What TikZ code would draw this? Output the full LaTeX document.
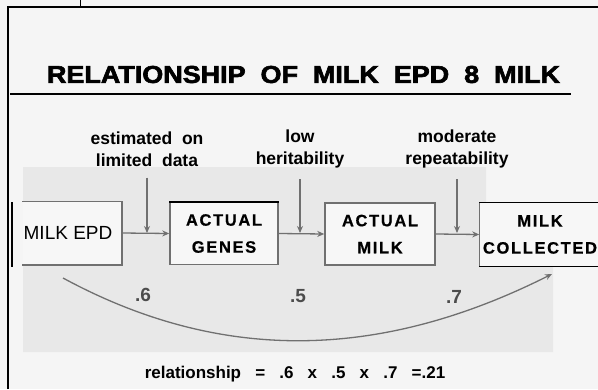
\documentclass[tikz,border=0pt]{standalone}
\usepackage{fontspec}
\setmainfont{Liberation Sans}
\usetikzlibrary{arrows.meta,positioning}

\definecolor{paper}{HTML}{F5F5F5}
\definecolor{photo}{HTML}{E8E8E8}
\definecolor{boxfill}{HTML}{F7F7F7}
\definecolor{pen}{HTML}{707070}

\tikzset{
  stage/.style={draw=pen,line width=1.5pt,fill=boxfill,inner sep=0pt,
    minimum width=108pt,minimum height=62pt,align=center,
    font=\bfseries\addfontfeatures{LetterSpace=10,FakeBold=0.6}\fontsize{16.5}{27}\selectfont},
  cause/.style={align=center,inner sep=0pt,font=\bfseries\fontsize{17.5}{22}\selectfont},
  flow/.style={->,draw=pen,line width=1.3pt},
  coef/.style={text=black!70,font=\bfseries\fontsize{19}{19}\selectfont},
}

\begin{document}
\begin{tikzpicture}[x=1pt,y=-1pt,>={Stealth[length=7pt,width=6pt]}]
  \useasboundingbox[fill=paper] (0,0) rectangle (598,389);
  % frame of the page
  \draw[line width=2pt] (8,389) -- (8,7) -- (598,7);
  \draw[line width=0.8pt] (80,0) -- (80,7);
  \draw[line width=1.3pt] (12,202) -- (12,267);

  % title
  \node (title) at (303.5,74.5) {\resizebox{513pt}{17pt}{\bfseries\addfontfeatures{FakeBold=2.5}RELATIONSHIP\ \ OF\ \ MILK\ \ EPD\ \ 8\ \ MILK}};
  \draw[line width=1.6pt] (10,94) -- (571,94);

  % the pasted photo
  \fill[photo] (23,167) -- (486,167) -- (486,266) -- (553,266) -- (553,352) -- (23,352) -- cycle;

  % stages
  \node[stage,draw=none,minimum width=98pt,font=\fontsize{19}{19}\selectfont] (epd) at (72,233) {MILK EPD\hspace{8pt}};
  \draw[pen,line width=1.5pt] (epd.north west) -- (epd.north east) -- (epd.south east) -- (epd.south west);
  \node[stage] (genes) at (224,233.5) {ACTUAL\\GENES};
  \draw[line width=1.6pt] (genes.north west) -- (genes.north east);
  \node[stage,minimum width=110pt] (milk) at (380,234) {ACTUAL\\MILK};
  \node[stage,draw=none,minimum width=120pt,minimum height=63pt] (coll) at (540,234.5) {MILK\\COLLECTED};
  \draw[pen,line width=1.5pt] (coll.north west) -- (coll.south west);
  \draw[line width=1.2pt] (coll.north west) -- (coll.north east);
  \draw[line width=1.2pt] (coll.south west) -- (coll.south east);

  % what gets in the way
  \node[cause] (data) at (147,149) {estimated\ \ on\\limited\ \ data};
  \node[cause] (herit) at (300,149) {low\\heritability};
  \node[cause] (rept) at (457,149) {moderate\\repeatability};

  \draw[flow] (epd.east) -- (genes.west);
  \draw[flow] (genes.east) -- (milk.west);
  \draw[flow] (milk.east) -- (coll.west);
  \draw[flow] ([yshift=-11pt]data.south) -- (data.south |- epd.east);
  \draw[flow] ([yshift=-11pt]herit.south) -- (herit.south |- epd.east);
  \draw[flow] ([yshift=-11pt]rept.south) -- (rept.south |- epd.east);

  % overall path
  \coordinate (from) at (63,278);
  \coordinate (to) at (552,274);
  \draw[flow] (from) .. controls (218,362) and (377,362) .. (to);
  \node[coef] (r1) at (143,295) {.6};
  \node[coef] (r2) at (298,296) {.5};
  \node[coef] (r3) at (454,297) {.7};

  \node[font=\bfseries\fontsize{17}{17}\selectfont] (rel) at (295,374)
    {relationship\ \ \ =\ \ \ .6\ \ \ x\ \ \ .5\ \ \ x\ \ \ .7\ \ \ =.21};
\end{tikzpicture}
\end{document}
